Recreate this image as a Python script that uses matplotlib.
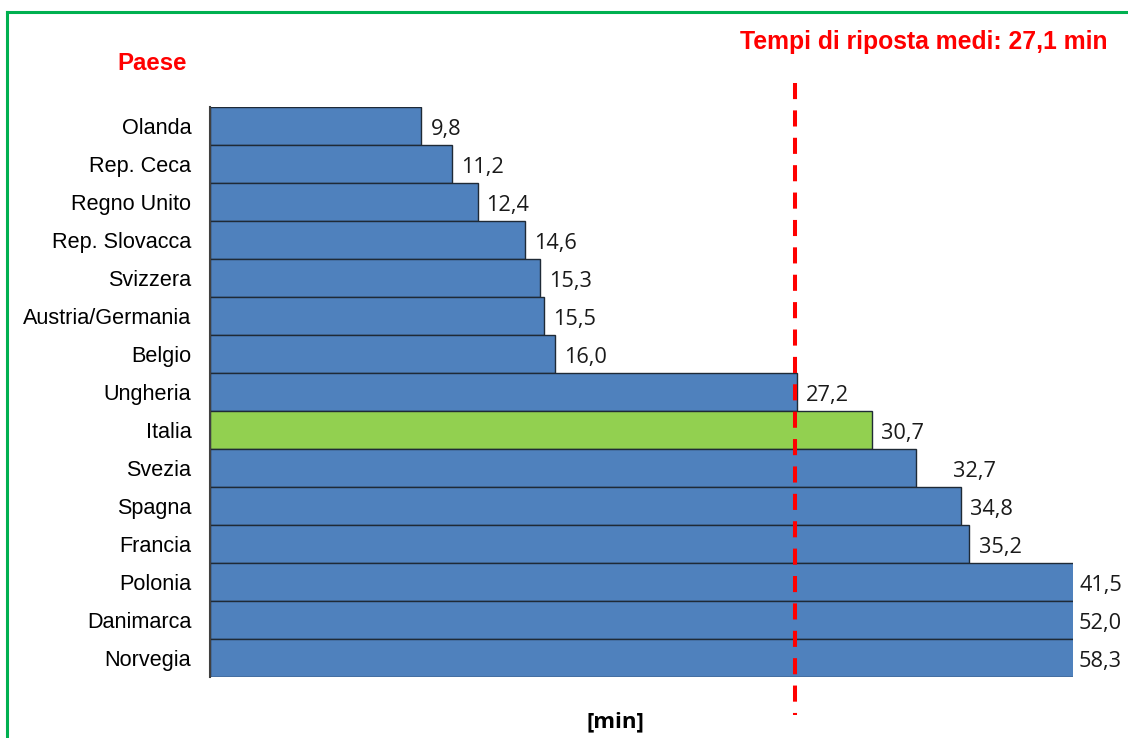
import matplotlib.pyplot as plt
import matplotlib.transforms as mtransforms
from matplotlib.lines import Line2D
import numpy as np

# Data
paesi = ['Olanda', 'Rep. Ceca', 'Regno Unito', 'Rep. Slovacca', 'Svizzera',
         'Austria/Germania', 'Belgio', 'Ungheria', 'Italia', 'Svezia',
         'Spagna', 'Francia', 'Polonia', 'Danimarca', 'Norvegia']
tempi = [9.8, 11.2, 12.4, 14.6, 15.3, 15.5, 16.0, 27.2, 30.7, 32.7,
         34.8, 35.2, 41.5, 52.0, 58.3]
media = 27.1
x_max = 40

blu = '#4F81BD'
verde = '#92D050'
colori = [verde if p == 'Italia' else blu for p in paesi]

fig = plt.figure(figsize=(11.28, 7.38), dpi=100)
ax = fig.add_axes([210 / 1128, 1 - 677 / 738, 863 / 1128, 570 / 738])

y = np.arange(len(paesi))
ax.barh(y, tempi, height=1.0, color=colori, edgecolor='#1f2a36', linewidth=1)
ax.set_xlim(0, x_max)
ax.set_ylim(len(paesi) - 0.5, -0.5)

ax.set_yticks(y)
ax.set_yticklabels(paesi, fontsize=15.6, family='Liberation Sans')
ax.tick_params(axis='y', length=0, pad=13.5)
ax.set_xticks([])
for s in ['top', 'right', 'bottom']:
    ax.spines[s].set_visible(False)
ax.spines['left'].set_color('#404040')
ax.spines['left'].set_linewidth(1.5)

# value labels (comma decimal)
for i, (p, v) in enumerate(zip(paesi, tempi)):
    xv = min(v, x_max)
    off = 0.42 if v <= x_max else 0.28
    if p == 'Svezia':
        off = 1.75
    ax.text(xv + off, i + 0.1, f'{v:.1f}'.replace('.', ','), va='center',
            ha='left', fontsize=15.7, family='Open Sans', color='#1a1a1a',
            clip_on=False)

# average dashed line
trans = mtransforms.blended_transform_factory(ax.transData, ax.transAxes)
ax.plot([media, media], [1.042, -0.067], transform=trans, color='#ff0000',
        lw=2.9, dashes=(4, 2.8), clip_on=False)

fig.text(1107 / 1128, 1 - 42 / 738, 'Tempi di riposta medi: 27,1 min',
         ha='right', va='center', fontsize=17.8, fontweight='bold',
         color='#ff0000', family='Liberation Sans')
fig.text(152 / 1128, 1 - 63 / 738, 'Paese', ha='center', va='center',
         fontsize=17.3, fontweight='bold', color='#ff0000',
         family='Liberation Sans')
fig.text(615 / 1128, 1 - 722 / 738, '[min]', ha='center', va='center',
         fontsize=16, fontweight='bold', family='Open Sans')

# green frame
g = '#00B050'
fig.add_artist(Line2D([7 / 1128, 1.01], [1 - 12 / 738, 1 - 12 / 738],
                      color=g, lw=2.2, transform=fig.transFigure))
fig.add_artist(Line2D([7 / 1128, 7 / 1128], [-0.01, 1 - 12 / 738],
                      color=g, lw=2.2, transform=fig.transFigure))

fig.savefig('out.png', dpi=100)
